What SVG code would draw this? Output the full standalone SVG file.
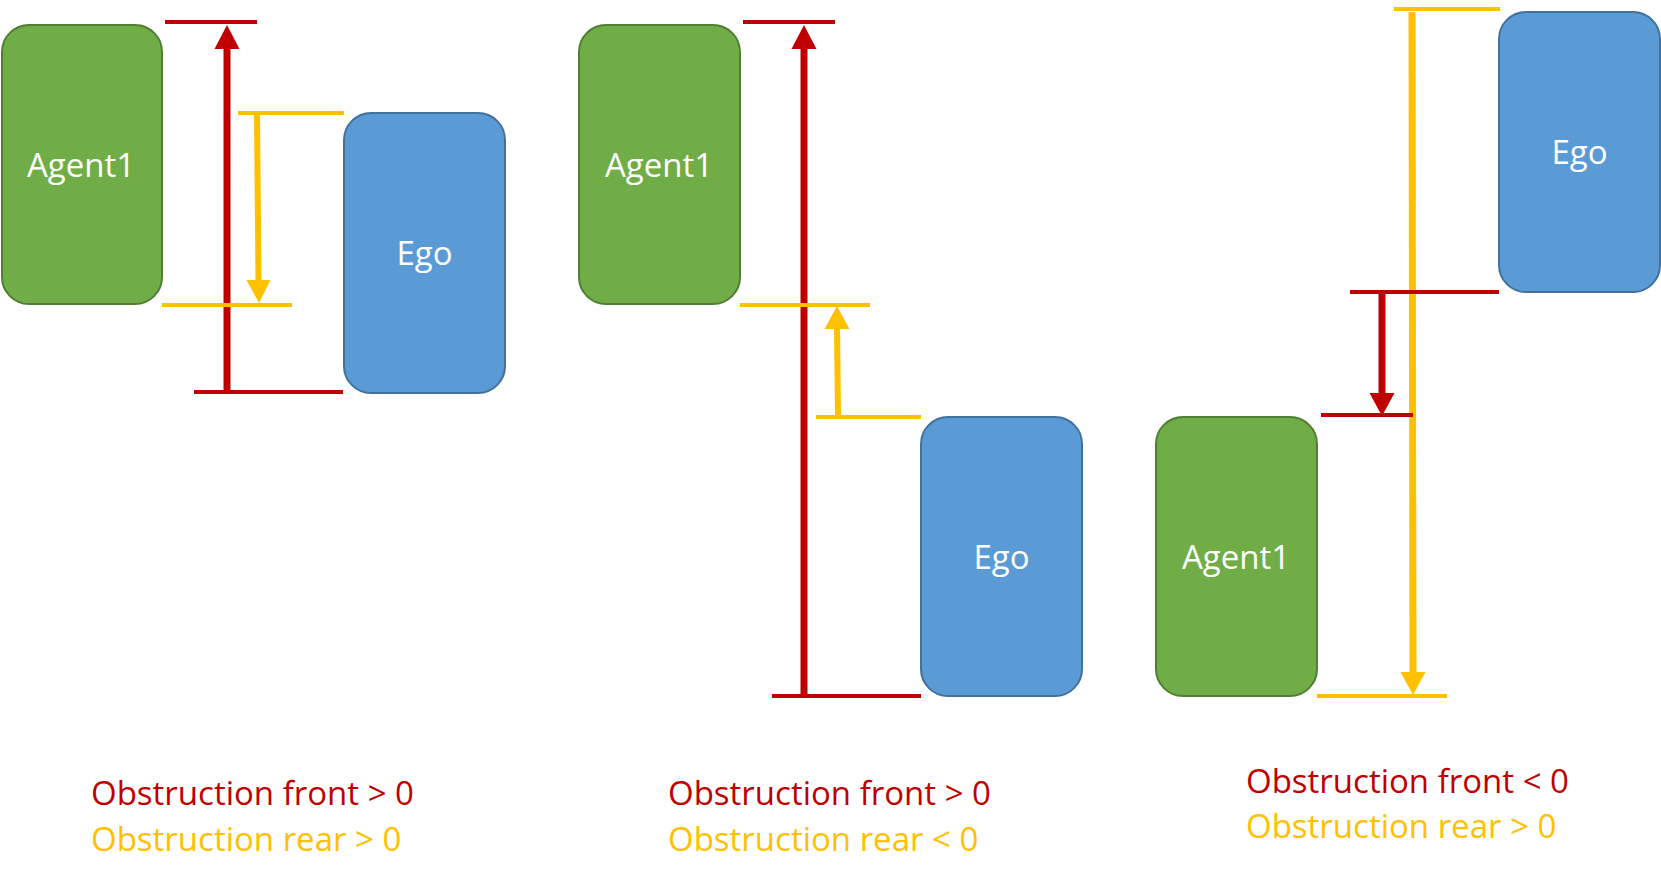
<svg xmlns="http://www.w3.org/2000/svg" width="1661" height="884" viewBox="0 0 1661 884">
<style>
.agent{fill:#70AD47;stroke:#507E32;stroke-width:2}
.ego{fill:#5B9BD5;stroke:#41719C;stroke-width:2}
.lbl{font-family:"Open Sans","Noto Sans",sans-serif;font-size:33px;fill:#FFFFFF;text-anchor:middle}
.cap{font-family:"Open Sans","Noto Sans",sans-serif;font-size:33px}
.red{stroke:#C00000;fill:none}
.yel{stroke:#FFC000;fill:none}
.thin{stroke-width:4}
.shaft{stroke-width:7}
.headR{fill:#C00000}
.headY{fill:#FFC000}
</style>
<rect width="1661" height="884" fill="#FFFFFF"/>
<g id="connectors">
<!-- panel 1 -->
<line class="red thin" x1="165" y1="22" x2="257" y2="22"/>
<line class="red thin" x1="194" y1="392" x2="343" y2="392"/>
<line class="red shaft" x1="227" y1="392" x2="227" y2="48"/>
<polygon class="headR" points="214.5,49 239.5,49 227,25"/>
<line class="yel thin" x1="238" y1="113" x2="344" y2="113"/>
<line class="yel shaft" style="stroke-width:6" x1="257" y1="113" x2="258.5" y2="282"/>
<polygon class="headY" points="246.5,280 270.5,280 259,303"/>
<line class="yel thin" x1="162" y1="305" x2="292" y2="305"/>
<!-- panel 2 -->
<line class="red thin" x1="743" y1="22" x2="835" y2="22"/>
<line class="red shaft" x1="804" y1="696" x2="804" y2="48"/>
<polygon class="headR" points="791.5,49 816.5,49 804,25"/>
<line class="red thin" x1="772" y1="696" x2="921" y2="696"/>
<line class="yel thin" x1="740" y1="305" x2="870" y2="305"/>
<line class="yel shaft" style="stroke-width:6" x1="838" y1="417" x2="837" y2="327"/>
<polygon class="headY" points="824.5,329 849.5,329 837,306"/>
<line class="yel thin" x1="816" y1="417" x2="921" y2="417"/>
<!-- panel 3 -->
<line class="yel thin" x1="1394" y1="9" x2="1500" y2="9"/>
<line class="yel shaft" x1="1412" y1="12" x2="1413" y2="674"/>
<polygon class="headY" points="1400.5,672 1425.5,672 1413,695"/>
<line class="yel thin" x1="1317" y1="696" x2="1447" y2="696"/>
<line class="red thin" x1="1350" y1="292" x2="1499" y2="292"/>
<line class="red shaft" x1="1382" y1="292" x2="1382" y2="394"/>
<polygon class="headR" points="1369.5,393 1394.5,393 1382,416"/>
<line class="red thin" x1="1321" y1="415" x2="1413" y2="415"/>
</g>
<g id="agent1-a">
<rect class="agent" x="2" y="25" width="160" height="279" rx="27"/>
<text class="lbl" x="81" y="177">Agent1</text>
</g>
<g id="ego-a">
<rect class="ego" x="344" y="113" width="161" height="280" rx="27"/>
<text class="lbl" x="424.5" y="265">Ego</text>
</g>
<g id="agent1-b">
<rect class="agent" x="579" y="25" width="161" height="279" rx="27"/>
<text class="lbl" x="659" y="177">Agent1</text>
</g>
<g id="ego-b">
<rect class="ego" x="921" y="417" width="161" height="279" rx="27"/>
<text class="lbl" x="1001.5" y="569">Ego</text>
</g>
<g id="agent1-c">
<rect class="agent" x="1156" y="417" width="161" height="279" rx="27"/>
<text class="lbl" x="1236" y="569">Agent1</text>
</g>
<g id="ego-c">
<rect class="ego" x="1499" y="12" width="161" height="280" rx="27"/>
<text class="lbl" x="1579.5" y="164">Ego</text>
</g>
<g id="captions">
<text class="cap" x="91" y="805" fill="#C00000">Obstruction front &gt; 0</text>
<text class="cap" x="91" y="851" fill="#FFC000">Obstruction rear &gt; 0</text>
<text class="cap" x="668" y="805" fill="#C00000">Obstruction front &gt; 0</text>
<text class="cap" x="668" y="851" fill="#FFC000">Obstruction rear &lt; 0</text>
<text class="cap" x="1246" y="793" fill="#C00000">Obstruction front &lt; 0</text>
<text class="cap" x="1246" y="838" fill="#FFC000">Obstruction rear &gt; 0</text>
</g>
</svg>
